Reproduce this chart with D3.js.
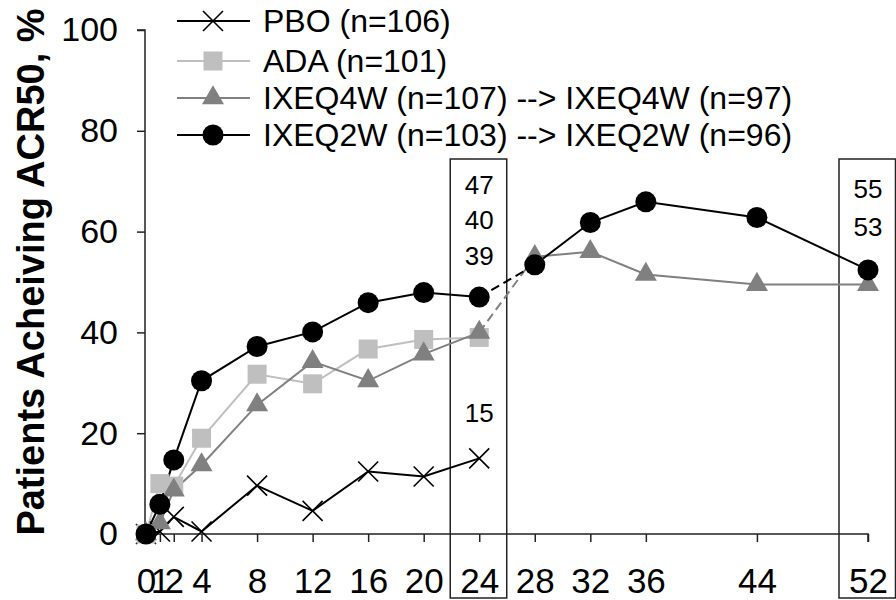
<!DOCTYPE html>
<html>
<head>
<meta charset="utf-8">
<script src="https://cdn.jsdelivr.net/npm/d3@7"></script>
<style>
  html, body { margin: 0; padding: 0; background: #fff; }
  svg { display: block; font-family: "Liberation Sans", Arial, sans-serif; }
</style>
</head>
<body>
<svg id="chart" width="896" height="600"></svg>
<script>
// Study weeks with an assessment
const weeks = [0, 1, 2, 4, 8, 12, 16, 20, 24, 28, 32, 36, 44, 52];
const xTickValues = [0, 1, 2, 4, 8, 12, 16, 20, 24, 28, 32, 36, 44, 52];
const yTickValues = [0, 20, 40, 60, 80, 100];

// ACR50 response rates (%) by arm
const pboValues = [0, 0.5, 3.4, 0.5, 9.6, 4.6, 12.4, 11.4, 15];
const adaValues = [0, 10, 9.5, 19, 31.7, 29.8, 36.7, 38.6, 39];
const q4wValues = [0, 2.2, 8.7, 13.7, 25.6, 34.2, 30.4, 35.7, 40, 55, 56, 51.5, 49.5, 49.5];
const q2wValues = [0, 5.9, 14.7, 30.4, 37.2, 40.1, 45.9, 47.9, 47, 53.4, 61.8, 65.9, 62.8, 52.4];

// Boxed time points and their annotated values (top to bottom)
const boxWeeks = [24, 52];
const week24Labels = ["47", "40", "39", "15"];
const week52Labels = ["55", "53"];

const legendLabels = [
  "PBO (n=106)",
  "ADA (n=101)",
  "IXEQ4W (n=107) --> IXEQ4W (n=97)",
  "IXEQ2W (n=103) --> IXEQ2W (n=96)"
];

const svg = d3.select("#chart");
const x = d3.scaleLinear().domain([0, 52]).range([146, 868]);
const y = d3.scaleLinear().domain([0, 100]).range([534, 30]);

const series = [
  { name: legendLabels[0], values: pboValues, line: "#000", fill: "none", symbol: "cross" },
  { name: legendLabels[1], values: adaValues, line: "#bfbfbf", fill: "#bfbfbf", symbol: "square" },
  { name: legendLabels[2], values: q4wValues, line: "#808080", fill: "#808080", symbol: "triangle" },
  { name: legendLabels[3], values: q2wValues, line: "#000", fill: "#000", symbol: "circle" }
];
series.forEach(s => {
  s.points = s.values.map((v, i) => ({ week: weeks[i], value: v }));
});

// Boxes around week 24 and week 52
svg.append("g").selectAll("rect")
  .data(boxWeeks)
  .join("rect")
  .attr("x", d => x(d) - 29)
  .attr("y", 159)
  .attr("width", 56.5)
  .attr("height", 439)
  .attr("fill", "none")
  .attr("stroke", "#222")
  .attr("stroke-width", 1.5);

// Axes
const yAxis = d3.axisLeft(y).tickValues(yTickValues).tickSize(8).tickPadding(19);
const gy = svg.append("g").attr("transform", `translate(${x(0) - 1},0)`).call(yAxis);
gy.select(".domain").attr("d", `M-8,${y(100)}H0V${y(0)}`).attr("stroke", "#222").attr("stroke-width", 1.5);
gy.selectAll(".tick line").attr("stroke", "#222").attr("stroke-width", 1.5);
gy.selectAll(".tick text").attr("font-size", 34).attr("fill", "#000")
  .attr("font-family", "Liberation Sans, Arial, sans-serif");

const xAxis = d3.axisBottom(x).tickValues(xTickValues).tickSize(8).tickPadding(26);
const gx = svg.append("g").attr("transform", `translate(0,${y(0)})`).call(xAxis);
gx.select(".domain").attr("d", `M${x(0) - 1},0H${x(52)}V8`).attr("stroke", "#222").attr("stroke-width", 1.5);
gx.selectAll(".tick line").attr("stroke", "#222").attr("stroke-width", 1.5);
gx.selectAll(".tick text").attr("font-size", 35).attr("fill", "#000")
  .attr("font-family", "Liberation Sans, Arial, sans-serif");

// Y axis title
svg.append("text")
  .attr("transform", `translate(44,${272}) rotate(-90)`)
  .attr("text-anchor", "middle")
  .attr("font-size", 38)
  .attr("font-weight", "bold")
  .attr("fill", "#000")
  .text("Patients Acheiving ACR50, %");

// Lines: solid within each period, dashed across the week 24 -> 28 switch
const lineGen = d3.line().x(d => x(d.week)).y(d => y(d.value));
const linesG = svg.append("g").attr("fill", "none");
series.forEach(s => {
  const first = s.points.filter(p => p.week <= 24);
  const second = s.points.filter(p => p.week >= 28);
  linesG.append("path").datum(first).attr("d", lineGen)
    .attr("stroke", s.line).attr("stroke-width", 2);
  if (second.length) {
    linesG.append("path").datum(second).attr("d", lineGen)
      .attr("stroke", s.line).attr("stroke-width", 2);
    linesG.append("path").datum([first[first.length - 1], second[0]]).attr("d", lineGen)
      .attr("stroke", s.line).attr("stroke-width", 2).attr("stroke-dasharray", "9,5");
  }
});

// Marker shapes
function drawMarker(g, s) {
  if (s.symbol === "cross") {
    g.append("path").attr("d", "M-10,-10L10,10M-10,10L10,-10")
      .attr("stroke", "#000").attr("stroke-width", 1.6).attr("fill", "none");
  } else if (s.symbol === "square") {
    g.append("path").attr("d", d3.symbol(d3.symbolSquare, 19 * 19)()).attr("fill", s.fill);
  } else if (s.symbol === "triangle") {
    g.append("path").attr("d", d3.symbol(d3.symbolTriangle, 210)()).attr("fill", s.fill);
  } else {
    g.append("path").attr("d", d3.symbol(d3.symbolCircle, Math.PI * 10.5 * 10.5)()).attr("fill", s.fill);
  }
}

const markersG = svg.append("g");
series.forEach(s => {
  markersG.append("g").selectAll("g")
    .data(s.points)
    .join("g")
    .attr("transform", d => `translate(${x(d.week)},${y(d.value)})`)
    .each(function () { drawMarker(d3.select(this), s); });
});

// Annotated values inside the boxes
const labelG = svg.append("g").attr("font-size", 26).attr("fill", "#000").attr("text-anchor", "middle");
const w24Y = [185, 220, 256, 413];
labelG.selectAll("text.w24").data(week24Labels).join("text")
  .attr("class", "w24")
  .attr("x", x(24)).attr("y", (d, i) => w24Y[i]).attr("dy", "0.35em").text(d => d);
const w52Y = [189, 227];
labelG.selectAll("text.w52").data(week52Labels).join("text")
  .attr("class", "w52")
  .attr("x", x(52)).attr("y", (d, i) => w52Y[i]).attr("dy", "0.35em").text(d => d);

// Legend
const legendRows = [21, 61, 98, 135];
const legend = svg.append("g");
series.forEach((s, i) => {
  const row = legend.append("g").attr("transform", `translate(0,${legendRows[i]})`);
  row.append("line").attr("x1", 177).attr("x2", 250).attr("y1", 0).attr("y2", 0)
    .attr("stroke", s.line).attr("stroke-width", 2);
  const m = row.append("g").attr("transform", "translate(213,0)");
  drawMarker(m, s);
  row.append("text").attr("x", 263).attr("y", 0).attr("dy", "0.35em")
    .attr("font-size", 32).attr("fill", "#000").text(s.name);
});
</script>
</body>
</html>
